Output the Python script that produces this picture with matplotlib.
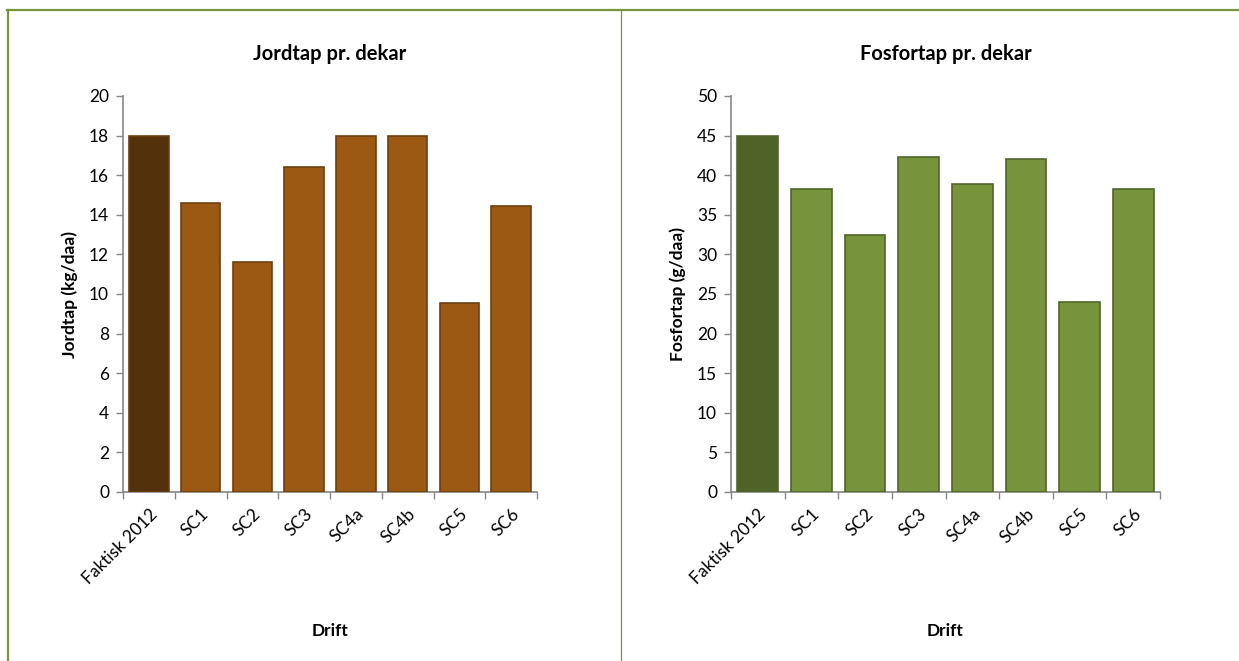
import numpy as np
import matplotlib.pyplot as plt
from matplotlib.lines import Line2D

plt.rcParams['font.family'] = ['Lato', 'DejaVu Sans']

# data
categories = ['Faktisk 2012', 'SC1', 'SC2', 'SC3', 'SC4a', 'SC4b', 'SC5', 'SC6']
jordtap = [18.0, 14.6, 11.6, 16.4, 18.0, 18.0, 9.55, 14.45]
fosfortap = [45.0, 38.2, 32.4, 42.3, 38.9, 42.1, 24.0, 38.2]

W, H = 1239, 661
fig = plt.figure(figsize=(W / 100, H / 100), dpi=100)

axis_grey = '#868686'
frame_green = '#77933C'
fs = 12.5


def bar_panel(rect, values, title, ylabel, ymax, ystep, base_col, first_col, edge_col):
    ax = fig.add_axes(rect)
    x = np.arange(len(categories))
    colors = [first_col] + [base_col] * (len(values) - 1)
    ax.bar(x, values, width=0.76, color=colors, edgecolor=edge_col, linewidth=1.2, zorder=3)

    ax.set_xlim(-0.5, len(categories) - 0.5)
    ax.set_ylim(0, ymax)
    ax.set_yticks(np.arange(0, ymax + 0.1, ystep))
    ax.set_yticklabels([f'{v:g}' for v in np.arange(0, ymax + 0.1, ystep)], fontsize=fs)

    # category labels in the middle, tick marks at category boundaries
    ax.set_xticks(x)
    ax.set_xticklabels(categories, rotation=45, ha='right', rotation_mode='anchor', fontsize=fs)
    ax.set_xticks(np.arange(-0.5, len(categories)), minor=True)
    ax.tick_params(axis='x', which='major', length=0, pad=10)
    ax.tick_params(axis='x', which='minor', length=5, width=1, color=axis_grey, direction='out')
    ax.tick_params(axis='y', length=5, width=1, color=axis_grey, direction='out', pad=5)

    for side in ['top', 'right']:
        ax.spines[side].set_visible(False)
    for side in ['left', 'bottom']:
        ax.spines[side].set_color(axis_grey)
        ax.spines[side].set_linewidth(1.2)

    ax.set_ylabel(ylabel, fontsize=fs, fontweight='bold', labelpad=8)
    ax.set_xlabel('Drift', fontsize=fs, fontweight='bold')
    ax.xaxis.set_label_coords(0.5, -0.33)
    ax.set_title(title, fontsize=14.5, fontweight='bold', pad=26)
    return ax


bar_panel([123 / W, 1 - 492 / H, (537 - 123) / W, 396 / H], jordtap,
          'Jordtap pr. dekar', 'Jordtap (kg/daa)', 20, 2,
          '#9C5914', '#52310B', '#6E3F0E')
bar_panel([731 / W, 1 - 492 / H, (1160 - 731) / W, 396 / H], fosfortap,
          'Fosfortap pr. dekar', 'Fosfortap (g/daa)', 50, 5,
          '#77933C', '#4F6228', '#516529')

# green frame like the document table
fig.add_artist(Line2D([7 / W, 1], [1 - 10 / H, 1 - 10 / H], color=frame_green, linewidth=1.6))
fig.add_artist(Line2D([8 / W, 8 / W], [0, 1 - 10 / H], color=frame_green, linewidth=1.6))
fig.add_artist(Line2D([621 / W, 621 / W], [0, 1 - 10 / H], color=frame_green, linewidth=0.9))

fig.savefig('out.png', dpi=100)
